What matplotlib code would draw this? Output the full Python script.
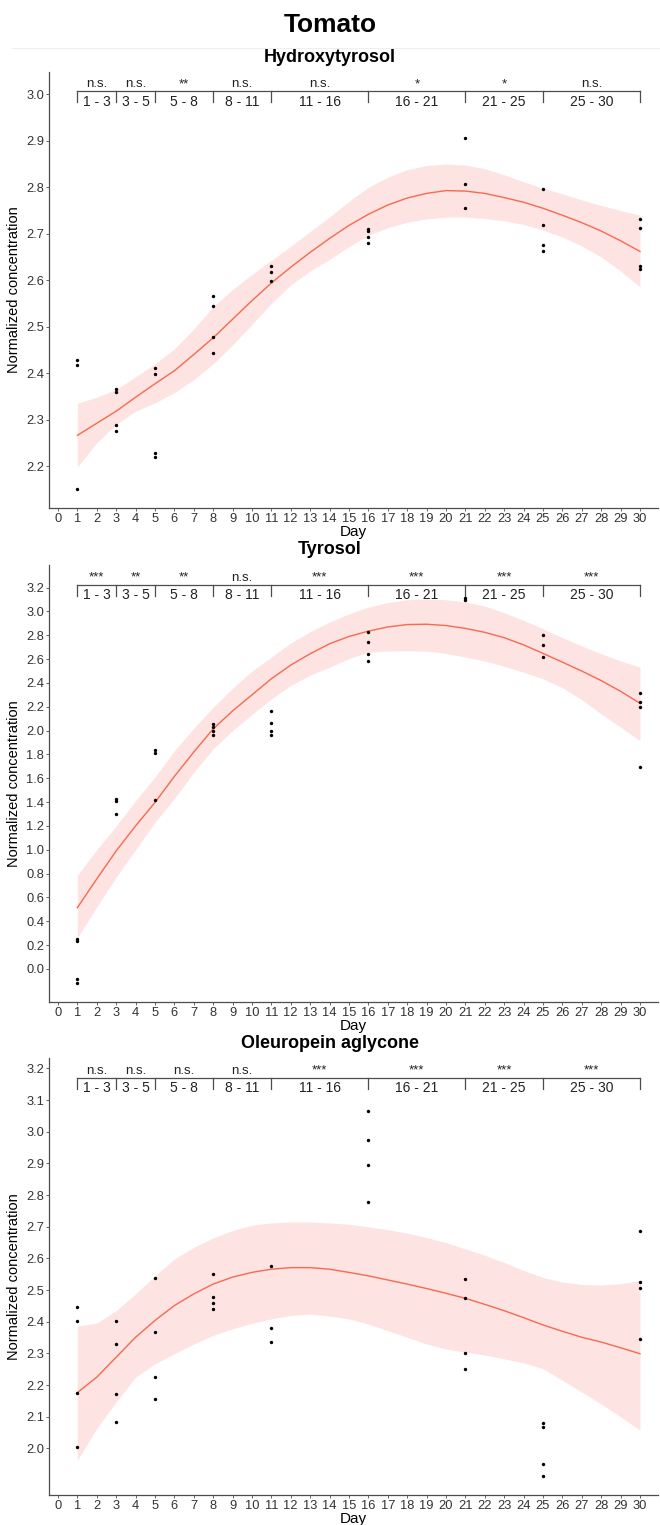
import numpy as np
import matplotlib
matplotlib.use("Agg")
import matplotlib.pyplot as plt
from matplotlib.lines import Line2D

plt.rcParams['font.family'] = ['Liberation Sans', 'DejaVu Sans']

# ---- data ----
main_title = "Tomato"
panel_titles = ["Hydroxytyrosol", "Tyrosol", "Oleuropein aglycone"]

bounds = [1, 3, 5, 8, 11, 16, 21, 25, 30]
intervals = ["1 - 3", "3 - 5", "5 - 8", "8 - 11", "11 - 16", "16 - 21", "21 - 25", "25 - 30"]

sig_hydroxy = ["n.s.", "n.s.", "**", "n.s.", "n.s.", "*", "*", "n.s."]
sig_tyrosol = ["***", "**", "**", "n.s.", "***", "***", "***", "***"]
sig_oleuro = ["n.s.", "n.s.", "n.s.", "n.s.", "***", "***", "***", "***"]

# raw points
hyd_day = [1, 1, 1, 3, 3, 3, 3, 5, 5, 5, 5, 8, 8, 8, 8, 11, 11, 11,
           16, 16, 16, 16, 21, 21, 21, 25, 25, 25, 25, 30, 30, 30, 30]
hyd_val = [2.428, 2.417, 2.151, 2.366, 2.359, 2.288, 2.275, 2.411, 2.399, 2.227, 2.219,
           2.566, 2.545, 2.478, 2.443, 2.631, 2.618, 2.599,
           2.711, 2.707, 2.693, 2.680, 2.906, 2.808, 2.756,
           2.796, 2.718, 2.676, 2.664, 2.731, 2.713, 2.631, 2.624]

tyr_day = [1, 1, 1, 1, 3, 3, 3, 5, 5, 5, 8, 8, 8, 8, 11, 11, 11, 11,
           16, 16, 16, 16, 21, 21, 25, 25, 25, 30, 30, 30, 30]
tyr_val = [0.253, 0.234, -0.084, -0.12, 1.425, 1.406, 1.299, 1.837, 1.809, 1.417,
           2.056, 2.028, 2.0, 1.966, 2.163, 2.064, 2.0, 1.964,
           2.827, 2.74, 2.639, 2.583, 3.116, 3.10, 2.805, 2.718, 2.617,
           2.317, 2.238, 2.202, 1.692]

ole_day = [1, 1, 1, 1, 3, 3, 3, 3, 5, 5, 5, 5, 8, 8, 8, 8, 11, 11, 11,
           16, 16, 16, 16, 21, 21, 21, 21, 25, 25, 25, 25, 30, 30, 30, 30]
ole_val = [2.448, 2.401, 2.176, 2.006, 2.402, 2.331, 2.172, 2.084,
           2.539, 2.369, 2.227, 2.157, 2.55, 2.479, 2.46, 2.441,
           2.575, 2.38, 2.336, 3.067, 2.973, 2.895, 2.777,
           2.534, 2.474, 2.30, 2.251, 2.079, 2.068, 1.95, 1.913,
           2.686, 2.527, 2.506, 2.346]

# smoothed fit and confidence band, read at each day 1..30
fit_day = list(range(1, 31))

hyd_fit = [2.266, 2.292, 2.318, 2.348, 2.377, 2.405, 2.440, 2.476, 2.516, 2.556,
           2.594, 2.628, 2.660, 2.690, 2.718, 2.742, 2.762, 2.777, 2.787, 2.793,
           2.792, 2.787, 2.778, 2.768, 2.755, 2.740, 2.724, 2.706, 2.685, 2.662]
hyd_hi = [2.335, 2.348, 2.365, 2.392, 2.420, 2.452, 2.495, 2.543, 2.580, 2.612,
          2.643, 2.673, 2.705, 2.736, 2.770, 2.800, 2.822, 2.838, 2.847, 2.850,
          2.848, 2.840, 2.827, 2.812, 2.798, 2.786, 2.773, 2.761, 2.750, 2.740]
hyd_lo = [2.198, 2.250, 2.290, 2.318, 2.336, 2.358, 2.386, 2.420, 2.461, 2.505,
          2.550, 2.590, 2.620, 2.645, 2.672, 2.697, 2.713, 2.725, 2.732, 2.736,
          2.736, 2.733, 2.728, 2.720, 2.708, 2.693, 2.674, 2.650, 2.620, 2.586]

tyr_fit = [0.514, 0.755, 0.990, 1.200, 1.397, 1.615, 1.820, 2.014, 2.165, 2.300,
           2.435, 2.550, 2.645, 2.729, 2.790, 2.835, 2.870, 2.890, 2.893, 2.882,
           2.858, 2.825, 2.780, 2.720, 2.648, 2.575, 2.500, 2.420, 2.330, 2.230]
tyr_hi = [0.786, 1.000, 1.200, 1.410, 1.610, 1.830, 2.020, 2.196, 2.355, 2.500,
          2.617, 2.735, 2.830, 2.911, 2.980, 3.037, 3.075, 3.098, 3.105, 3.098,
          3.080, 3.045, 2.990, 2.925, 2.855, 2.780, 2.710, 2.645, 2.585, 2.533]
tyr_lo = [0.262, 0.520, 0.770, 1.000, 1.230, 1.430, 1.650, 1.846, 2.000, 2.135,
          2.266, 2.380, 2.465, 2.533, 2.605, 2.659, 2.668, 2.670, 2.667, 2.648,
          2.617, 2.585, 2.540, 2.490, 2.435, 2.360, 2.260, 2.140, 2.030, 1.916]

ole_fit = [2.176, 2.225, 2.288, 2.351, 2.404, 2.451, 2.488, 2.519, 2.541, 2.556,
           2.566, 2.571, 2.571, 2.566, 2.556, 2.545, 2.532, 2.519, 2.505, 2.490,
           2.474, 2.455, 2.435, 2.413, 2.390, 2.370, 2.351, 2.336, 2.318, 2.299]
ole_hi = [2.386, 2.396, 2.435, 2.488, 2.545, 2.598, 2.635, 2.665, 2.688, 2.705,
          2.712, 2.715, 2.715, 2.712, 2.708, 2.700, 2.691, 2.680, 2.666, 2.650,
          2.630, 2.610, 2.587, 2.562, 2.540, 2.525, 2.518, 2.516, 2.520, 2.530]
ole_lo = [1.963, 2.063, 2.147, 2.225, 2.267, 2.299, 2.330, 2.357, 2.378, 2.395,
          2.409, 2.420, 2.424, 2.418, 2.409, 2.393, 2.372, 2.351, 2.330, 2.314,
          2.304, 2.295, 2.283, 2.270, 2.252, 2.215, 2.178, 2.140, 2.100, 2.058]

panels = [
    (hyd_day, hyd_val, hyd_fit, hyd_hi, hyd_lo, sig_hydroxy,
     (2.109, 3.049), np.arange(2.2, 3.001, 0.1)),
    (tyr_day, tyr_val, tyr_fit, tyr_hi, tyr_lo, sig_tyrosol,
     (-0.28, 3.39), np.arange(0.0, 3.201, 0.2)),
    (ole_day, ole_val, ole_fit, ole_hi, ole_lo, sig_oleuro,
     (1.853, 3.232), np.arange(2.0, 3.201, 0.1)),
]

# ---- layout (pixel based) ----
W, H = 660, 1525
fig = plt.figure(figsize=(W / 100, H / 100), dpi=100)

axes_px = [(71.7, 508.3), (565.0, 1002.3), (1058.3, 1495.0)]
title_px = [57, 549, 1043]
left_px, right_px = 49, 658

line_col = '#F8694F'
band_col = '#F8766D'
axis_col = '#4d4d4d'

fig.text(330 / W, 1 - 25 / H, main_title, ha='center', va='center',
         fontsize=19, fontweight='bold')
fig.add_artist(Line2D([12 / W, 1.0], [1 - 47.7 / H] * 2, color='#efefef', lw=0.8))

for k, ((top, bot), ttl_y, p) in enumerate(zip(axes_px, title_px, panels)):
    day, val, fit, hi, lo, sig, ylim, yticks = p
    ax = fig.add_axes([left_px / W, 1 - bot / H, (right_px - left_px) / W, (bot - top) / H])

    ax.fill_between(fit_day, lo, hi, color=band_col, alpha=0.2, lw=0)
    ax.plot(fit_day, fit, color=line_col, lw=1.0)
    ax.scatter(day, val, s=6, color='black', zorder=3, linewidths=0)

    ax.set_xlim(-0.46, 30.93)
    ax.set_ylim(*ylim)
    ax.set_xticks(range(0, 31))
    ax.set_yticks(yticks)
    ax.set_yticklabels(["{:.1f}".format(t) for t in yticks])

    for s in ['top', 'right']:
        ax.spines[s].set_visible(False)
    for s in ['left', 'bottom']:
        ax.spines[s].set_color(axis_col)
        ax.spines[s].set_linewidth(0.9)
    ax.tick_params(length=2.2, width=0.6, color=axis_col, labelsize=9.3,
                   labelcolor='#333333', pad=1.2)

    ax.set_xlabel("Day", fontsize=11, labelpad=0)
    ax.set_ylabel("Normalized concentration", fontsize=10.5, labelpad=4)

    # significance brackets, positioned in pixels below the top of the panel
    hpx = bot - top
    trans = ax.get_xaxis_transform()
    y_line = 1 - 19.5 / hpx
    y_tick = 1 - 30.5 / hpx
    y_lab = 1 - 34.0 / hpx
    y_sig = 1 - 15.5 / hpx
    ax.plot([bounds[0], bounds[-1]], [y_line, y_line], transform=trans,
            color=axis_col, lw=0.9, clip_on=False)
    for b in bounds:
        ax.plot([b, b], [y_line, y_tick], transform=trans, color=axis_col,
                lw=0.9, clip_on=False)
    for i, lab in enumerate(intervals):
        xm = (bounds[i] + bounds[i + 1]) / 2
        ax.text(xm, y_lab, lab, transform=trans, ha='center', va='baseline',
                fontsize=10, color='#222222')
        ax.text(xm, y_sig, sig[i], transform=trans, ha='center', va='baseline',
                fontsize=9.5, color='#222222')

    fig.text(330 / W, 1 - ttl_y / H, panel_titles[k],
             ha='center', va='center', fontsize=13, fontweight='bold')

fig.savefig("out.png", dpi=100)
